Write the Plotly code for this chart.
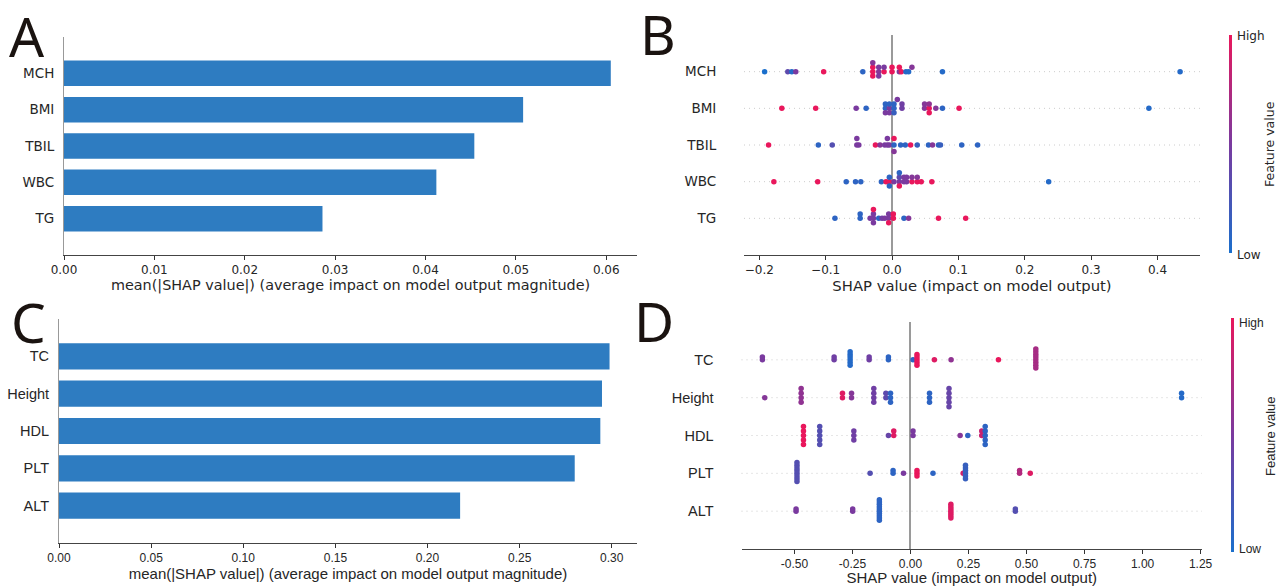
import numpy as np
import plotly.graph_objects as go

W, H = 1278, 586

# ---------------- Panel A (bar, mean |SHAP|) ----------------
A_features = ["MCH", "BMI", "TBIL", "WBC", "TG"]
A_importance = [0.0605, 0.0508, 0.0454, 0.0412, 0.0286]
A_ticks = [0.00, 0.01, 0.02, 0.03, 0.04, 0.05, 0.06]

# ---------------- Panel C (bar, mean |SHAP|) ----------------
C_features = ["TC", "Height", "HDL", "PLT", "ALT"]
C_importance = [0.2988, 0.2947, 0.2938, 0.2799, 0.2177]
C_ticks = [0.00, 0.05, 0.10, 0.15, 0.20, 0.25, 0.30]

# ---------------- Panel B (beeswarm) ----------------
B_features = ["MCH", "BMI", "TBIL", "WBC", "TG"]
B_MCH_shap = [-0.192, -0.157, -0.151, -0.145, -0.103, -0.044, -0.029, -0.029, -0.029, -0.029,
              -0.020, -0.020, -0.020, -0.012, -0.012, 0.000, 0.000, 0.011, 0.011, 0.014,
              0.021, 0.025, 0.030, 0.076, 0.434]
B_MCH_value = [0.0, 0.35, 0.05, 0.5, 1.0, 0.1, 1.0, 1.0, 1.0, 0.55,
               0.55, 0.5, 0.5, 1.0, 0.5, 1.0, 1.0, 0.5, 1.0, 1.0,
               0.05, 0.05, 0.55, 0.05, 0.05]
B_BMI_shap = [-0.166, -0.115, -0.054, -0.039, -0.010, -0.010, -0.010, -0.004, -0.004, -0.004,
              0.003, 0.003, 0.003, 0.008, 0.015, 0.015, 0.049, 0.049, 0.056, 0.056,
              0.056, 0.066, 0.076, 0.101, 0.387]
B_BMI_value = [1.0, 1.0, 0.5, 0.1, 0.1, 0.1, 0.5, 0.5, 0.1, 0.5,
               0.1, 0.1, 0.15, 0.5, 0.45, 0.45, 0.55, 0.55, 1.0, 0.6,
               1.0, 0.55, 0.1, 1.0, 0.05]
B_TBIL_shap = [-0.186, -0.111, -0.090, -0.053, -0.053, -0.050, -0.025, -0.018, -0.011, -0.007,
               -0.007, -0.004, 0.003, 0.003, 0.003, 0.013, 0.020, 0.028, 0.038, 0.055,
               0.061, 0.070, 0.073, 0.105, 0.129]
B_TBIL_value = [1.0, 0.1, 0.3, 0.5, 0.5, 0.5, 1.0, 0.55, 0.5, 0.5,
                0.5, 0.5, 0.1, 1.0, 0.55, 0.1, 0.1, 1.0, 0.15, 0.1,
                0.55, 0.1, 0.15, 0.1, 0.1]
B_WBC_shap = [-0.178, -0.112, -0.069, -0.055, -0.047, -0.016, -0.009, -0.004, -0.004, -0.004,
              0.003, 0.011, 0.011, 0.011, 0.011, 0.018, 0.018, 0.022, 0.022, 0.030,
              0.030, 0.038, 0.038, 0.044, 0.060, 0.236]
B_WBC_value = [1.0, 1.0, 0.1, 0.1, 0.1, 0.1, 1.0, 1.0, 0.1, 0.1,
               0.5, 0.5, 0.35, 1.0, 0.1, 0.5, 0.5, 0.5, 0.5, 1.0,
               0.55, 1.0, 0.55, 1.0, 1.0, 0.05]
B_TG_shap = [-0.086, -0.048, -0.048, -0.033, -0.028, -0.028, -0.028, -0.028, -0.020, -0.015,
             -0.011, -0.005, -0.005, -0.005, 0.002, 0.002, 0.018, 0.025, 0.070, 0.111]
B_TG_value = [0.1, 0.1, 0.1, 0.5, 0.5, 0.5, 0.5, 1.0, 0.1, 0.45,
              0.5, 0.5, 0.5, 1.0, 1.0, 1.0, 0.1, 0.55, 1.0, 1.0]
B_shap = [B_MCH_shap, B_BMI_shap, B_TBIL_shap, B_WBC_shap, B_TG_shap]
B_value = [B_MCH_value, B_BMI_value, B_TBIL_value, B_WBC_value, B_TG_value]
B_ticks = [-0.2, -0.1, 0.0, 0.1, 0.2, 0.3, 0.4]

# ---------------- Panel D (beeswarm) ----------------
D_features = ["TC", "Height", "HDL", "PLT", "ALT"]
D_TC_shap = [-0.638, -0.638, -0.329, -0.329, -0.260, -0.260, -0.260, -0.260, -0.260, -0.260,
             -0.178, -0.178, -0.095, -0.095, 0.011, 0.028, 0.028, 0.028, 0.028, 0.028,
             0.103, 0.175, 0.379, 0.540, 0.540, 0.540, 0.540, 0.540, 0.540, 0.540, 0.540]
D_TC_value = [0.5, 0.5, 0.45, 0.45, 0.05, 0.05, 0.05, 0.05, 0.05, 0.05,
              0.45, 0.45, 0.1, 0.1, 0.1, 1.0, 1.0, 1.0, 1.0, 1.0,
              0.95, 0.6, 1.0, 0.7, 0.7, 0.7, 0.7, 0.7, 0.7, 0.7, 0.7]
D_Height_shap = [-0.628, -0.471, -0.471, -0.471, -0.471, -0.293, -0.293, -0.254, -0.254, -0.158,
                 -0.158, -0.158, -0.158, -0.106, -0.106, -0.086, -0.086, -0.086, 0.082, 0.082,
                 0.082, 0.166, 0.166, 0.166, 0.166, 0.166, 1.168, 1.168]
D_Height_value = [0.55, 0.6, 0.6, 0.6, 0.6, 0.95, 0.95, 0.55, 0.55, 0.45,
                  0.45, 0.45, 0.45, 0.35, 0.35, 0.1, 0.1, 0.1, 0.1, 0.1,
                  0.1, 0.4, 0.4, 0.4, 0.4, 0.4, 0.05, 0.05]
D_HDL_shap = [-0.461, -0.461, -0.461, -0.461, -0.461, -0.391, -0.391, -0.391, -0.391, -0.391,
              -0.244, -0.244, -0.244, -0.095, -0.072, -0.072, 0.011, 0.011, 0.214, 0.247,
              0.307, 0.307, 0.322, 0.322, 0.322, 0.322, 0.322]
D_HDL_value = [1.0, 1.0, 1.0, 1.0, 1.0, 0.3, 0.3, 0.3, 0.3, 0.3,
               0.45, 0.45, 0.45, 0.4, 0.95, 0.95, 0.5, 0.5, 0.55, 0.1,
               0.85, 0.85, 0.1, 0.1, 0.1, 0.1, 0.1]
D_PLT_shap = [-0.489, -0.489, -0.489, -0.489, -0.489, -0.489, -0.489, -0.489, -0.174, -0.075,
              -0.075, -0.030, 0.028, 0.028, 0.028, 0.097, 0.227, 0.237, 0.237, 0.237,
              0.237, 0.237, 0.237, 0.470, 0.470, 0.516]
D_PLT_value = [0.3, 0.3, 0.3, 0.3, 0.3, 0.3, 0.3, 0.3, 0.3, 0.1,
               0.1, 0.5, 1.0, 1.0, 1.0, 0.1, 0.9, 0.15, 0.15, 0.15,
               0.15, 0.15, 0.15, 0.75, 0.75, 0.95]
D_ALT_shap = [-0.493, -0.493, -0.249, -0.249, -0.134, -0.134, -0.134, -0.134, -0.134, -0.134,
              -0.134, -0.134, -0.134, -0.134, 0.174, 0.174, 0.174, 0.174, 0.174, 0.174,
              0.174, 0.452, 0.452]
D_ALT_value = [0.5, 0.5, 0.5, 0.5, 0.1, 0.1, 0.1, 0.1, 0.1, 0.1,
               0.1, 0.1, 0.1, 0.1, 0.95, 0.95, 0.95, 0.95, 0.95, 0.95,
               0.95, 0.3, 0.3]
D_shap = [D_TC_shap, D_Height_shap, D_HDL_shap, D_PLT_shap, D_ALT_shap]
D_value = [D_TC_value, D_Height_value, D_HDL_value, D_PLT_value, D_ALT_value]
D_ticks = [-0.50, -0.25, 0.00, 0.25, 0.50, 0.75, 1.00, 1.25]

# ---------------- styling ----------------
BAR_COLOR = "#2e7cc1"
SCALE = [[0.0, "#1a6fcc"], [0.5, "#7a3a9f"], [1.0, "#e9175c"]]
F_AB = "DejaVu Sans"
F_CD = "Liberation Sans"
TXT = "#262626"


def xdom(a, b):
    return [a / W, b / W]


def ydom(top, bottom):
    return [1 - bottom / H, 1 - top / H]


def beeswarm(vals, row_height=0.4, nbins=100):
    v = np.asarray(vals, dtype=float)
    n = len(v)
    quant = np.round(nbins * (v - v.min()) / (v.max() - v.min() + 1e-8))
    inds = np.argsort(quant, kind="stable")
    ys = np.zeros(n)
    layer, last = 0, None
    for i in inds:
        if quant[i] != last:
            layer = 0
        ys[i] = np.ceil(layer / 2) * ((layer % 2) * 2 - 1)
        layer += 1
        last = quant[i]
    ys *= 0.9 * (row_height / np.max(ys + 1))
    return ys


fig = go.Figure()

# Bars
nA = len(A_features)
posA = [nA - 1 - i for i in range(nA)]
fig.add_trace(go.Bar(x=A_importance, y=posA, orientation="h", width=0.7,
                     marker=dict(color=BAR_COLOR, line=dict(width=0)),
                     xaxis="x", yaxis="y", hoverinfo="skip"))
nC = len(C_features)
posC = [nC - 1 - i for i in range(nC)]
fig.add_trace(go.Bar(x=C_importance, y=posC, orientation="h", width=0.7,
                     marker=dict(color=BAR_COLOR, line=dict(width=0)),
                     xaxis="x3", yaxis="y3", hoverinfo="skip"))

# Beeswarms
shapes = []
DOT = dict(color="#cccccc", width=1, dash="1px,4px")
nB = len(B_features)
posB = [nB - 1 - i for i in range(nB)]
for i in range(nB):
    ys = beeswarm(B_shap[i])
    fig.add_trace(go.Scatter(x=B_shap[i], y=posB[i] + ys, mode="markers",
                             marker=dict(size=5.5, color=B_value[i], coloraxis="coloraxis",
                                         line=dict(width=0)),
                             xaxis="x2", yaxis="y2", hoverinfo="skip"))
    shapes.append(dict(type="line", xref="x2 domain", yref="y2", x0=0, x1=1,
                       y0=posB[i], y1=posB[i], layer="below", line=DOT))
nD = len(D_features)
posD = [nD - 1 - i for i in range(nD)]
for i in range(nD):
    ys = beeswarm(D_shap[i])
    fig.add_trace(go.Scatter(x=D_shap[i], y=posD[i] + ys, mode="markers",
                             marker=dict(size=5.5, color=D_value[i], coloraxis="coloraxis2",
                                         line=dict(width=0)),
                             xaxis="x4", yaxis="y4", hoverinfo="skip"))
    shapes.append(dict(type="line", xref="x4 domain", yref="y4", x0=0, x1=1,
                       y0=posD[i], y1=posD[i], layer="below", line=DOT))

common_x = dict(ticks="outside", ticklen=4, tickwidth=1, tickcolor="#333",
                showline=True, linecolor="#444", linewidth=1, showgrid=False, automargin=False)
common_y = dict(ticks="outside", tickcolor="rgba(0,0,0,0)", showgrid=False, zeroline=False,
                range=[-1, 5], automargin=False)

fig.update_layout(
    width=W, height=H, margin=dict(l=0, r=0, t=0, b=0, autoexpand=False),
    plot_bgcolor="white", paper_bgcolor="white", showlegend=False,
    shapes=shapes,
    xaxis=dict(domain=xdom(64, 637), range=[0, 0.0634], tickvals=A_ticks, tickformat=".2f",
               zeroline=False, anchor="y",
               tickfont=dict(family=F_AB, size=12, color=TXT),
               title=dict(text="mean(|SHAP value|) (average impact on model output magnitude)",
                          font=dict(family=F_AB, size=14.4, color=TXT), standoff=2),
               **common_x),
    yaxis=dict(domain=ydom(37, 255), tickvals=posA, ticktext=A_features, ticklen=6,
               showline=True, linecolor="#999", linewidth=1,
               anchor="x", tickfont=dict(family=F_AB, size=13.5, color=TXT), **common_y),
    xaxis2=dict(domain=xdom(744, 1200), range=[-0.223, 0.464], tickvals=B_ticks, tickformat=".1f",
                zeroline=True, zerolinecolor="#9a9a9a", zerolinewidth=1.5, anchor="y2",
                tickfont=dict(family=F_AB, size=12, color=TXT),
                title=dict(text="SHAP value (impact on model output)",
                           font=dict(family=F_AB, size=14.8, color=TXT), standoff=2),
                **common_x),
    yaxis2=dict(domain=ydom(35, 255), tickvals=posB, ticktext=B_features, ticklen=24,
                showline=False, anchor="x2",
                tickfont=dict(family=F_AB, size=13.5, color=TXT), **common_y),
    xaxis3=dict(domain=xdom(59, 637), range=[0, 0.3137], tickvals=C_ticks, tickformat=".2f",
                zeroline=False, anchor="y3",
                tickfont=dict(family=F_CD, size=12, color=TXT),
                title=dict(text="mean(|SHAP value|) (average impact on model output magnitude)",
                           font=dict(family=F_CD, size=15, color=TXT), standoff=2),
                **common_x),
    yaxis3=dict(domain=ydom(319, 543), tickvals=posC, ticktext=C_features, ticklen=6,
                showline=True, linecolor="#999", linewidth=1,
                anchor="x3", tickfont=dict(family=F_CD, size=14.5, color=TXT), **common_y),
    xaxis4=dict(domain=xdom(741.5, 1202), range=[-0.728, 1.256], tickvals=D_ticks,
                ticktext=[f"{t:.2f}" for t in D_ticks],
                zeroline=True, zerolinecolor="#9a9a9a", zerolinewidth=1.5, anchor="y4",
                tickfont=dict(family=F_CD, size=12, color=TXT),
                title=dict(text="SHAP value (impact on model output)",
                           font=dict(family=F_CD, size=15, color=TXT), standoff=2),
                **common_x),
    yaxis4=dict(domain=ydom(322, 549), tickvals=posD, ticktext=D_features, ticklen=24,
                showline=False, anchor="x4",
                tickfont=dict(family=F_CD, size=14.5, color=TXT), **common_y),
    coloraxis=dict(cmin=0, cmax=1, colorscale=SCALE,
                   colorbar=dict(thickness=3, lenmode="pixels", len=218, x=1229 / W,
                                 xanchor="left", y=1 - 144 / H, yanchor="middle",
                                 outlinewidth=0, showticklabels=False, ticks="",
                                 xpad=0, ypad=0)),
    coloraxis2=dict(cmin=0, cmax=1, colorscale=SCALE,
                    colorbar=dict(thickness=3, lenmode="pixels", len=234, x=1231 / W,
                                  xanchor="left", y=1 - 435 / H, yanchor="middle",
                                  outlinewidth=0, showticklabels=False, ticks="",
                                  xpad=0, ypad=0)),
)


def ann(text, x, y, size, family, xanchor="left", yanchor="middle", angle=0, color=TXT,
        height=None):
    fig.add_annotation(text=text, x=x / W, y=1 - y / H, xref="paper", yref="paper",
                       xanchor=xanchor, yanchor=yanchor, showarrow=False, textangle=angle,
                       height=height, valign="middle",
                       font=dict(size=size, family=family, color=color))


# colorbar labels
ann("High", 1235, 36, 12, F_AB)
ann("Low", 1235, 255, 12, F_AB)
ann("Feature value", 1269, 144, 12.5, F_AB, xanchor="center", angle=-90)
ann("High", 1237, 323, 12, F_CD)
ann("Low", 1237, 549, 12, F_CD)
ann("Feature value", 1270, 436, 13, F_CD, xanchor="center", angle=-90)

# panel letters
for letter, cx, cy in [("A", 27, 35), ("B", 658, 33), ("C", 28, 321), ("D", 654, 320)]:
    ann(letter, cx, cy, 55, "Noto Sans", xanchor="center", color="#1a1310", height=52)

fig.write_html("out.html", post_script="document.body.style.margin='0px';",
               config={"displayModeBar": False})
